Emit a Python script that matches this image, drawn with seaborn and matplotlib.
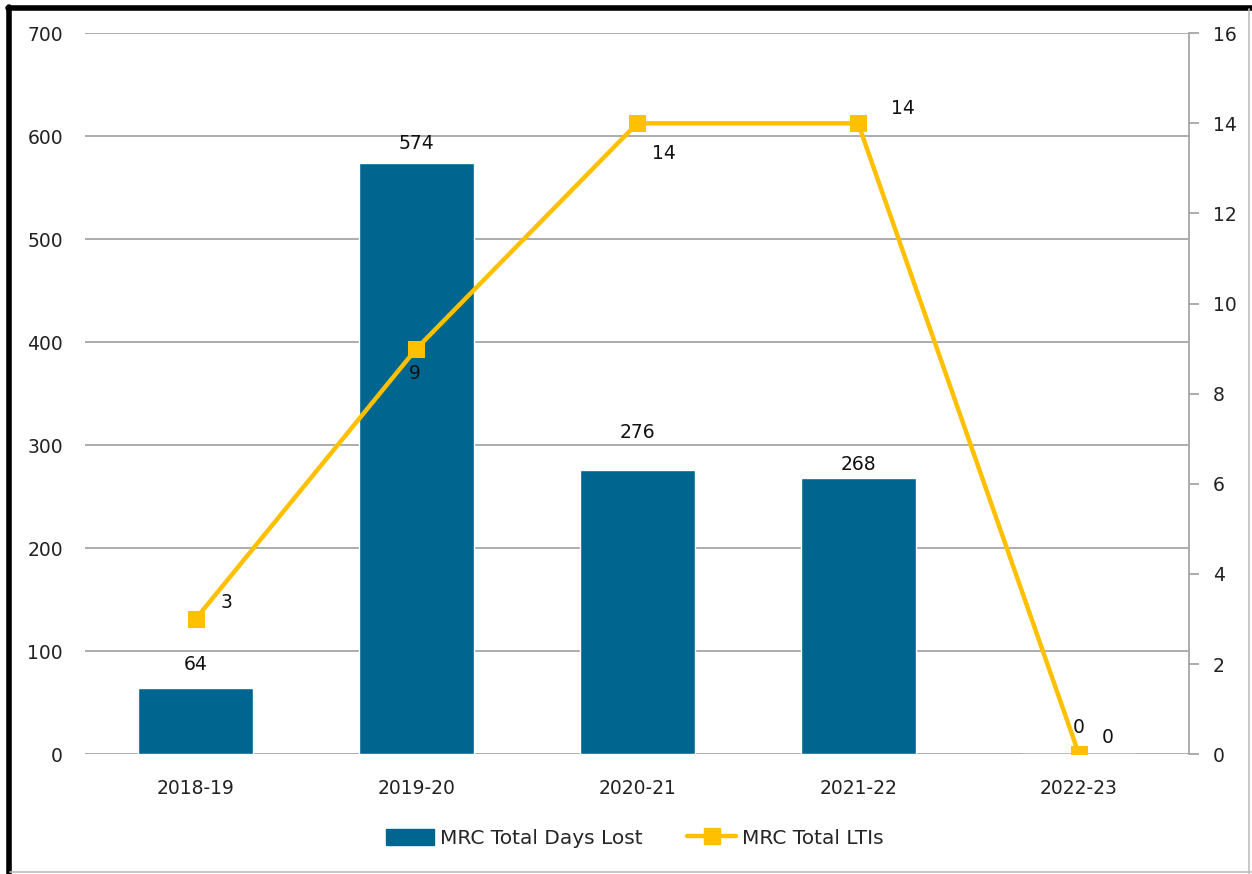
import numpy as np
import pandas as pd
import matplotlib
matplotlib.use('Agg')
import matplotlib.pyplot as plt
from matplotlib.lines import Line2D
from matplotlib.patches import Patch
import seaborn as sns

# chart values
years = ["2018-19", "2019-20", "2020-21", "2021-22", "2022-23"]
days_lost = [64, 574, 276, 268, 0]
total_ltis = [3, 9, 14, 14, 0]

BAR_COLOR = "#00668F"
LINE_COLOR = "#FFC000"
GRID = "#A6A6A6"
FS = 13.5

sns.set_theme(style="white")
plt.rcParams['font.family'] = ['DejaVu Sans']

fig = plt.figure(figsize=(12.52, 8.74), dpi=100)
ax = fig.add_axes([0.068, 0.137, 0.882, 0.825])

df = pd.DataFrame({"year": years, "days": days_lost})
sns.barplot(data=df, x="year", y="days", color=BAR_COLOR, saturation=1,
            width=0.52, ax=ax, zorder=2)

ax.set_ylim(0, 700)
ax.set_yticks(np.arange(0, 701, 100))
ax.set_xlim(-0.5, 4.5)
ax.yaxis.grid(True, color=GRID, linewidth=1.3, zorder=0)
ax.set_axisbelow(True)
for s in ax.spines.values():
    s.set_visible(False)
ax.set_xlabel("")
ax.set_ylabel("")
ax.tick_params(axis='y', length=0, pad=16, labelsize=FS, labelcolor="#222222")
ax.tick_params(axis='x', length=0, pad=18, labelsize=FS, labelcolor="#222222")

# bar value labels (label gap above each bar, as Excel placed them)
bar_gaps = [17, 14, 27, 10, 19]
for i, (v, g) in enumerate(zip(days_lost, bar_gaps)):
    ax.annotate(str(v), (i, v), xytext=(0, g), textcoords='offset points',
                ha='center', va='center', fontsize=FS, color="#111111")

# secondary axis with the LTI line
ax2 = ax.twinx()
sns.lineplot(x=np.arange(len(years)), y=total_ltis, ax=ax2, color=LINE_COLOR,
             linewidth=3.2, marker='s', markersize=11.5, markeredgecolor=LINE_COLOR,
             zorder=5)
ax2.set_ylim(0, 16)
ax2.set_yticks(np.arange(0, 17, 2))
for name, s in ax2.spines.items():
    s.set_visible(name == 'right')
ax2.spines['right'].set_color(GRID)
ax2.spines['right'].set_linewidth(1.3)
ax2.tick_params(axis='y', length=7, width=1.3, color=GRID, pad=10,
                labelsize=FS, labelcolor="#222222", right=True)
ax2.set_ylabel("")

# line value labels (placed like the original)
offsets = [(22, 12), (-1.5, -18), (19, -21.5), (32, 11), (21, 12)]
for i, (v, (dx, dy)) in enumerate(zip(total_ltis, offsets)):
    ax2.annotate(str(v), (i, v), xytext=(dx, dy), textcoords='offset points',
                 ha='center', va='center', fontsize=FS, color="#111111")

# legend
handles = [Patch(facecolor=BAR_COLOR, edgecolor=BAR_COLOR),
           Line2D([0], [0], color=LINE_COLOR, linewidth=3.2, marker='s',
                  markersize=11.5)]
fig.legend(handles, ["MRC Total Days Lost", "MRC Total LTIs"], loc='center',
           bbox_to_anchor=(0.507, 0.041), ncol=2, frameon=False, fontsize=14.5,
           handlelength=2.4, handleheight=0.9, columnspacing=2.2, handletextpad=0.3)

# outer frame: heavy black left/top, light grey right/bottom
fig.add_artist(Line2D([0.0075, 0.0075], [0.0, 0.992], color='black', linewidth=4,
                      transform=fig.transFigure))
fig.add_artist(Line2D([0.006, 1.0], [0.991, 0.991], color='black', linewidth=4,
                      transform=fig.transFigure))
fig.add_artist(Line2D([0.998, 0.998], [0.0, 0.99], color='#BFBFBF', linewidth=1.2,
                      transform=fig.transFigure))
fig.add_artist(Line2D([0.008, 1.0], [0.002, 0.002], color='#BFBFBF', linewidth=1.2,
                      transform=fig.transFigure))

fig.savefig("out.png", dpi=100)
plt.close(fig)
